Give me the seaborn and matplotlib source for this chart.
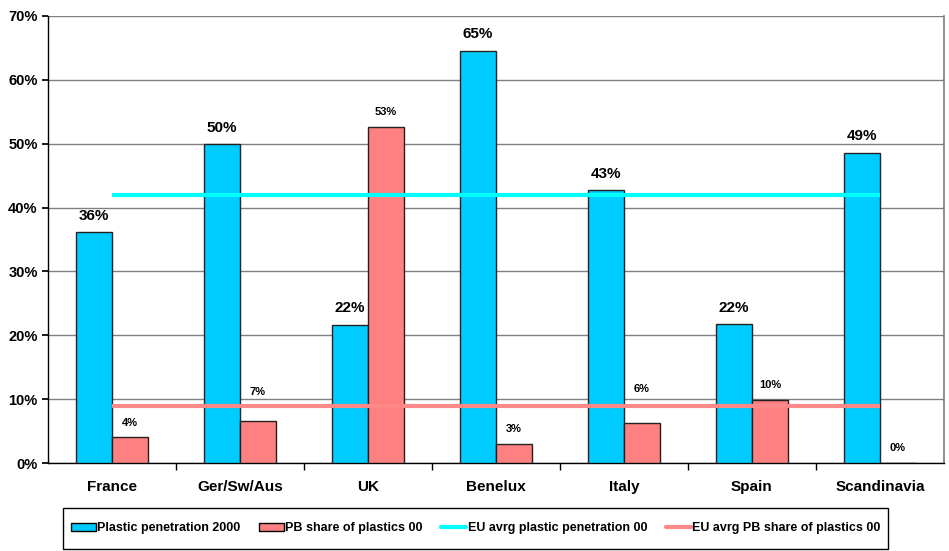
import matplotlib
matplotlib.use("Agg")
import matplotlib.pyplot as plt
import matplotlib.patches as mpatches
import matplotlib.lines as mlines
import pandas as pd
import seaborn as sns
from matplotlib.ticker import FuncFormatter

regions = ["France", "Ger/Sw/Aus", "UK", "Benelux", "Italy", "Spain", "Scandinavia"]
plastic_penetration = [36.1, 49.9, 21.6, 64.5, 42.7, 21.7, 48.6]
pb_share = [4.0, 6.6, 52.6, 3.0, 6.3, 9.9, 0.0]
pb_labels = ["4%", "7%", "53%", "3%", "6%", "10%", "0%"]
pen_labels = ["36%", "50%", "22%", "65%", "43%", "22%", "49%"]
eu_avg_penetration = 41.9
eu_avg_pb_share = 9.0

series_names = ["Plastic penetration 2000", "PB share of plastics 00"]
line_names = ["EU avrg plastic penetration 00", "EU avrg PB share of plastics 00"]

# extra lift (points) for the small labels that would sit on the avg line
pb_label_lift = [0, 10, 0, 0, 14, 0, 0]

df = pd.DataFrame({
    "region": regions * 2,
    "value": plastic_penetration + pb_share,
    "series": [series_names[0]] * len(regions) + [series_names[1]] * len(regions),
})

sns.set_theme(style="white")
plt.rcParams["font.family"] = ["Liberation Sans", "DejaVu Sans"]
plt.rcParams["text.color"] = "black"
plt.rcParams["xtick.color"] = "black"
plt.rcParams["ytick.color"] = "black"

blue = "#00CCFF"
pink = "#FF8080"

fig = plt.figure(figsize=(9.49, 5.51), dpi=100)
ax = fig.add_axes([0.0506, 0.1597, 0.944, 0.8113])

sns.barplot(
    data=df, x="region", y="value", hue="series",
    palette=[blue, pink], saturation=1, width=0.56, edgecolor="#222222",
    linewidth=1, legend=False, ax=ax, zorder=3,
)

ax.hlines(eu_avg_penetration, 0, len(regions) - 1, color="#00FFFF", linewidth=3, zorder=4)
ax.hlines(eu_avg_pb_share, 0, len(regions) - 1, color="#FF8888", linewidth=3, zorder=4)

# value labels
for cont, labels, size, lifts in [
    (ax.containers[0], pen_labels, 11, [0] * len(regions)),
    (ax.containers[1], pb_labels, 8, pb_label_lift),
]:
    for bar, lab, lift in zip(cont, labels, lifts):
        ax.annotate(
            lab, (bar.get_x() + bar.get_width() / 2, bar.get_height()),
            xytext=(0, 7 + lift), textcoords="offset points",
            ha="center", va="bottom", fontsize=size, fontweight="bold", zorder=5,
        )

ax.set_ylim(0, 70)
ax.set_xlim(-0.5, len(regions) - 0.5)
ax.set_yticks(range(0, 71, 10))
ax.yaxis.set_major_formatter(FuncFormatter(lambda v, p: f"{v:.0f}%"))
ax.yaxis.grid(True, color="#808080", linewidth=1)
ax.set_axisbelow(True)
ax.set_xlabel("")
ax.set_ylabel("")

ax.set_xticks(range(len(regions)))
ax.set_xticklabels(regions, fontsize=11, fontweight="bold")
ax.set_xticks([i + 0.5 for i in range(len(regions) - 1)], minor=True)
ax.tick_params(axis="x", which="major", length=0, pad=12)
ax.tick_params(axis="x", which="minor", length=5, direction="out", color="black", bottom=True)
ax.tick_params(axis="y", length=4, direction="out", color="black", left=True, labelsize=10.5)
for t in ax.get_yticklabels():
    t.set_fontweight("bold")

for s in ["left", "bottom"]:
    ax.spines[s].set_color("black")
    ax.spines[s].set_linewidth(1)
ax.spines["top"].set_visible(False)
ax.spines["right"].set_color("#808080")

handles = [
    mpatches.Patch(facecolor=blue, edgecolor="black", label=series_names[0]),
    mpatches.Patch(facecolor=pink, edgecolor="black", label=series_names[1]),
    mlines.Line2D([], [], color="#00FFFF", linewidth=3, label=line_names[0]),
    mlines.Line2D([], [], color="#FF8888", linewidth=3, label=line_names[1]),
]

# legend box drawn separately so its size matches the original
box = mpatches.Rectangle(
    (63 / 949, 2 / 551), 825 / 949, 41 / 551, transform=fig.transFigure,
    facecolor="white", edgecolor="black", linewidth=1,
)
fig.add_artist(box)
leg = fig.legend(
    handles=handles, loc="center", bbox_to_anchor=(475.5 / 949, 22.5 / 551),
    ncol=4, frameon=False, prop={"weight": "bold", "size": 9},
    handlelength=2.0, handleheight=0.55, handletextpad=0.1,
    borderaxespad=0, columnspacing=1.5,
)

fig.savefig("out.png", dpi=100)
